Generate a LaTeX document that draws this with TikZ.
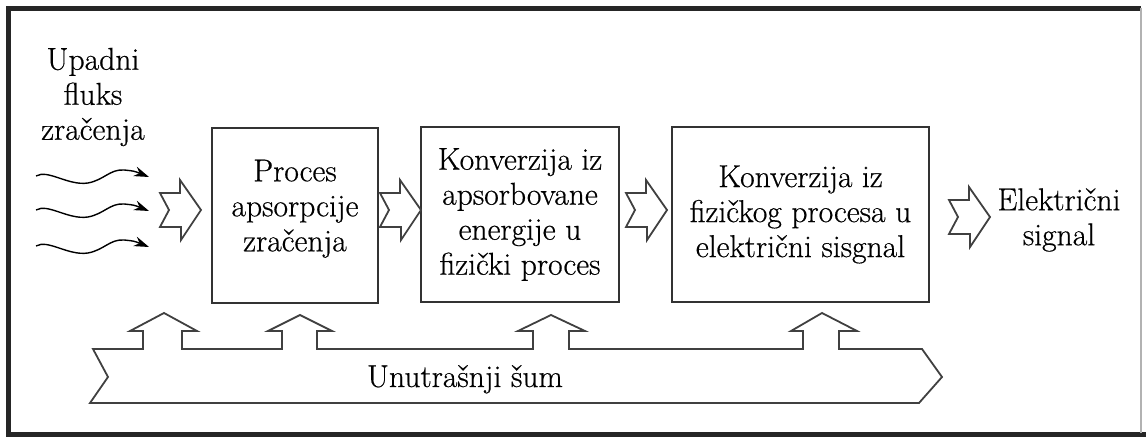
\documentclass[tikz,border=0pt]{standalone}
\usepackage{fontspec}
\setmainfont{Latin Modern Roman}[FakeBold=0.5]
\usetikzlibrary{arrows.meta, positioning}

\tikzset{
  blok/.style={draw=black!80, line width=1pt, minimum height=87.5pt, align=center, inner sep=2pt},
  natpis/.style={align=center, inner sep=0pt},
  obris/.style={draw=black!75, line width=0.9pt, line join=miter, fill=white},
  talas/.style={line width=0.7pt, -{Stealth[length=7.5pt,width=5pt]}},
  debela/.pic={
    \draw[obris] (-20,-17) -- (0,-17) -- (0,-30) -- (21,0) -- (1,30) -- (1,17)
      -- (-20,17) -- (-11,0) -- cycle;
  }
}

\begin{document}
\begin{tikzpicture}[x=0.5pt, y=-0.5pt, every node/.style={font=\fontsize{15.8}{17.5}\selectfont}]
  \useasboundingbox (0,0) rectangle (1146,437);
  % okvir
  \draw[black!85, line width=2.6pt] (8.5,435) -- (8.5,8.5) -- (1141,8.5);
  \draw[black!85, line width=2.6pt] (6,435) -- (1146,435);
  \draw[black!30, line width=0.8pt] (1141,8.5) -- (1141,433);

  % blokovi
  \node[blok, minimum width=83pt, text depth=10pt] (apsorpcija) at (295,215.5) {Proces\\apsorpcije\\zračenja};
  \node[blok, minimum width=99pt] (konverzija) at (520,214.5) {Konverzija iz\\apsorbovane\\energije u\\fizički proces};
  \node[blok, minimum width=128.5pt] (signal) at (800.5,214.5) {Konverzija iz\\fizičkog procesa u\\električni sisgnal};

  % ulaz i izlaz
  \node[natpis] (fluks) at (93,97) {Upadni\\fluks\\zračenja};
  \node[natpis] (izlaz) at (1059,220) {Električni\\signal};

  \foreach \y in {176,210,246}
    \draw[talas] (36,\y) .. controls (48,\y-7) and (68,\y+10) .. (88,\y+7)
      .. controls (104,\y+4) and (110,\y-7) .. (124,\y-6)
      .. controls (134,\y-5) .. (149,\y+1);

  % debele strelice
  \pic at (180,210) {debela};
  \pic at (400,210) {debela};
  \pic at (646,210) {debela};
  \pic at (969,217) {debela};

  % unutrasnji sum
  \draw[obris] (90,403) -- (108,377) -- (93,349)
    -- (143,349) -- (143,331) -- (130,331) -- (164,313) -- (197,331) -- (182,331) -- (182,349)
    -- (282,349) -- (282,331) -- (268,331) -- (300,315) -- (332,331) -- (317,331) -- (317,349)
    -- (533,349) -- (533,331) -- (518,331) -- (551,315) -- (585,331) -- (569,331) -- (569,349)
    -- (803,349) -- (803,331) -- (791,331) -- (822,313) -- (857,331) -- (839,331) -- (839,349)
    -- (922,349) -- (942,377) -- (919,403) -- cycle;
  \node[anchor=base, inner sep=0pt] (sum) at (465,387) {Unutrašnji šum};
\end{tikzpicture}
\end{document}
